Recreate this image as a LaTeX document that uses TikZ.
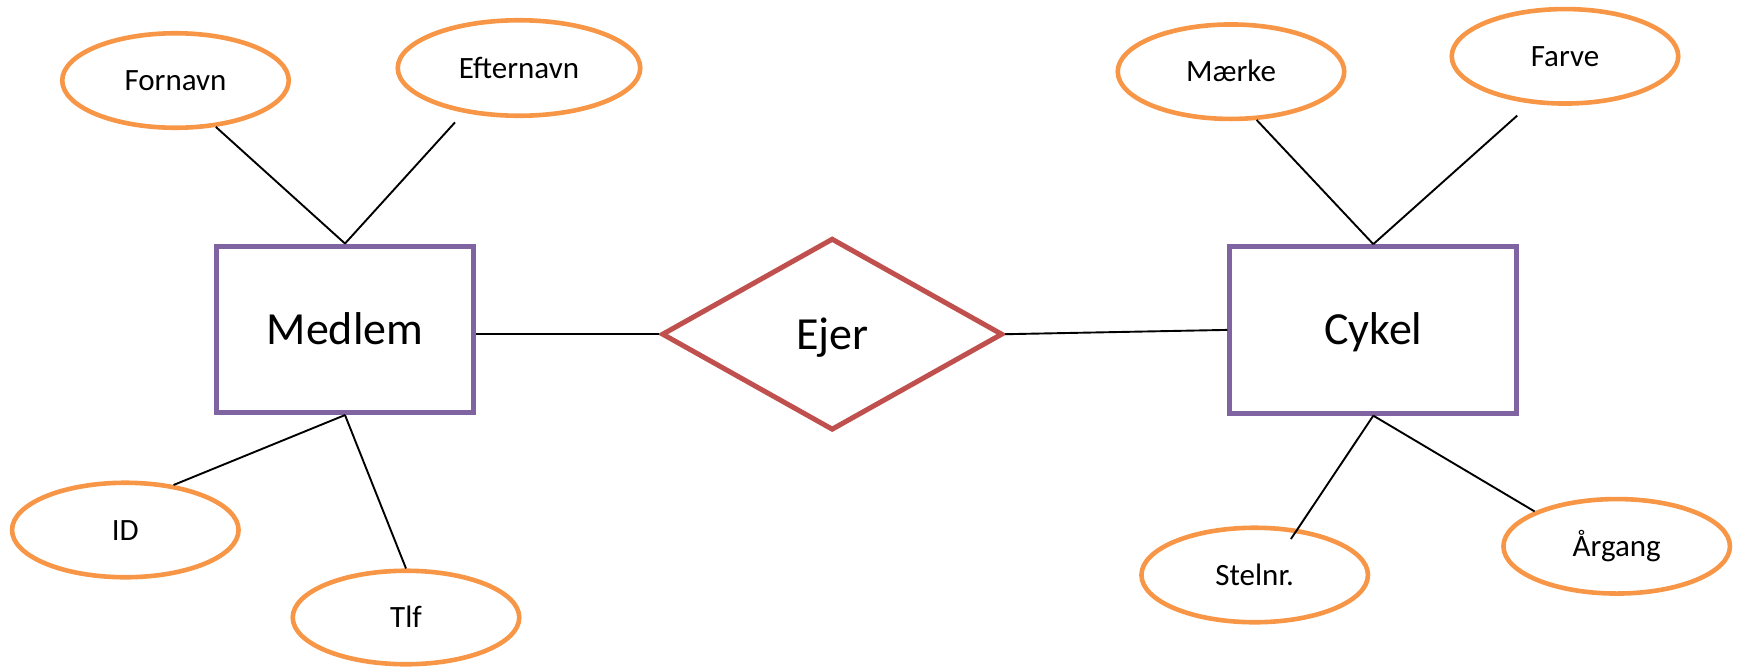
\documentclass[tikz,border=0pt]{standalone}
\usepackage{fontspec}
\setmainfont{Carlito}
\usetikzlibrary{shapes.geometric}
\definecolor{attrorange}{HTML}{F79646}
\definecolor{entpurple}{HTML}{8064A2}
\definecolor{relred}{HTML}{C0504D}
\begin{document}
\begin{tikzpicture}[x=1pt,y=-1pt,
  attr/.style={ellipse, draw=attrorange, line width=4.6pt, inner sep=0pt,
    minimum width=226.5pt, minimum height=94.5pt,
    font=\fontsize{31}{31}\selectfont, text height=20pt, text depth=0pt},
  entity/.style={rectangle, draw=entpurple, line width=5pt, inner sep=0pt,
    minimum height=166.5pt,
    font=\fontsize{46}{46}\selectfont, text height=29.6pt, text depth=0pt},
  rel/.style={diamond, draw=relred, line width=5pt, inner sep=0pt,
    minimum width=341pt, minimum height=192pt,
    font=\fontsize{46}{46}\selectfont, text height=29.6pt, text depth=0pt},
  conn/.style={draw=black, line width=1.9pt}]
\useasboundingbox (0,0) rectangle (1738,667);

\node[attr] (fornavn) at (175.5,80.5) {Fornavn};
\node[attr, minimum width=242.5pt, minimum height=95.5pt] (efternavn) at (519,68) {Efternavn};
\node[attr] (id) at (125.3,530) {ID};
\node[attr, minimum height=93.5pt] (tlf) at (406,617.5) {Tlf};
\node[entity, minimum width=257pt] (medlem) at (345,329.3) {Medlem};
\node[rel] (ejer) at (832.2,334.2) {Ejer};
\node[entity, minimum width=286.7pt] (cykel) at (1373.3,329.9) {Cykel};
\node[attr] (maerke) at (1231,71.7) {Mærke};
\node[attr] (farve) at (1565,56.3) {Farve};
\node[attr] (stelnr) at (1254.7,575) {Stelnr.};
\node[attr] (argang) at (1616.7,546.3) {Årgang};

\draw[conn] (medlem.north) -- (fornavn.-49);
\draw[conn, shorten >=13pt] (medlem.north) -- (efternavn.-141.6);
\draw[conn] (medlem.south) -- (id.43.5);
\draw[conn] (medlem.south) -- (tlf.north);
\draw[conn] (medlem.east |- ejer.west) -- (ejer.west);
\draw[conn] (ejer.east) -- (cykel.west);
\draw[conn] (cykel.north) -- (maerke.-62);
\draw[conn, shorten >=18pt] (cykel.north) -- (farve.-126.4);
\draw[conn, shorten >=-12pt] (cykel.south) -- (stelnr.47.3);
\draw[conn] (cykel.south) -- (argang.157);
\end{tikzpicture}
\end{document}
